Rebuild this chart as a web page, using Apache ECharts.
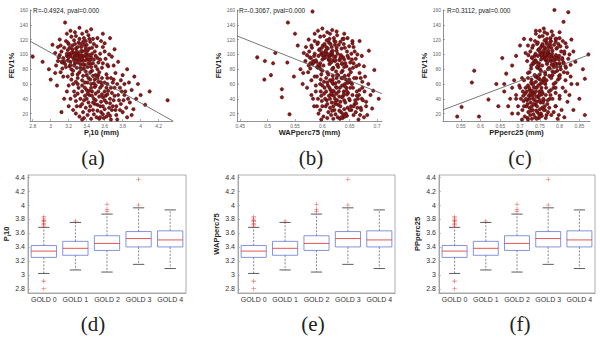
<!DOCTYPE html>
<html>
<head>
<meta charset="utf-8">
<script src="https://cdn.jsdelivr.net/npm/echarts@6/dist/echarts.min.js"></script>
<style>
  html, body { margin: 0; padding: 0; background: #fff; }
  #chart { width: 600px; height: 342px; }
</style>
</head>
<body>
<div id="chart"></div>
<script>
// --- scatter data (x = airway metric in mm, y = FEV1%) ---
const pi10Points = [
  [3.21,101],[3.25,95],[3.28,108],[3.3,99],[3.33,92],[3.35,104],[3.27,88],[3.24,112],[3.31,116],[3.36,97],
  [3.38,86],[3.4,101],[3.42,93],[3.29,82],[3.22,90],[3.18,98],[3.19,106],[3.26,119],[3.34,110],[3.37,122],
  [3.43,108],[3.45,96],[3.47,88],[3.41,83],[3.39,77],[3.32,76],[3.23,80],[3.16,87],[3.14,95],[3.2,114],
  [3.28,125],[3.35,128],[3.44,117],[3.49,104],[3.52,95],[3.5,84],[3.46,78],[3.36,71],[3.3,68],[3.24,73],
  [3.12,104],[3.17,118],[3.31,102],[3.27,97],[3.33,87],[3.29,93],[3.38,105],[3.4,113],[3.25,103],[3.22,98],
  [3.34,99],[3.36,91],[3.3,110],[3.26,85],[3.43,99],[3.48,93],[3.53,89],[3.55,101],[3.57,82],[3.19,92],
  [3.15,109],[3.1,99],[3.08,91],[3.32,121],[3.42,126],[3.48,114],[3.23,124],[3.39,118],[3.44,87],[3.37,81],
  [3.21,84],[3.13,81],[3.05,102],[3.58,110],[3.61,94],[3.54,76],[3.47,71],[3.28,63],[3.19,70],[3.11,76],
  [3.2,96],[3.23,102],[3.26,92],[3.29,104],[3.32,97],[3.35,94],[3.38,99],[3.41,105],[3.44,92],[3.46,101],
  [3.24,107],[3.27,114],[3.3,89],[3.33,82],[3.36,86],[3.39,92],[3.42,88],[3.45,83],[3.22,86],[3.18,101],
  [3.15,91],[3.21,109],[3.28,100],[3.31,94],[3.34,105],[3.37,113],[3.4,96],[3.43,121],[3.46,109],[3.5,98],
  [3.25,78],[3.3,73],[3.34,80],[3.4,72],[3.17,83],[3.13,89],[3.09,96],[3.27,130],[3.36,117],[3.51,111],
  [3.55,93],[3.52,80],[3.49,66],[3.44,76],[3.35,65],[3.23,66],[3.14,70],[3.06,85],[3.33,114],[3.26,100],
  [3.19,116],[3.39,109],[3.47,121],[3.56,118],[3.6,104],[3.64,84],[3.58,88],[3.53,72],[3.42,68],[3.11,112],
  [2.8,97],[2.91,90],[3.16,143],[3.32,136],[3.45,134],[3.58,128],[3.66,122],[3.71,107],[3.68,97],[3.75,90],
  [3.63,86],[3.02,113],[2.98,80],[3.0,66],[3.07,58],[3.85,80],[3.8,72],[3.62,73],
  [3.35,58],[3.4,52],[3.45,60],[3.5,47],[3.55,55],[3.48,40],[3.42,35],[3.38,44],[3.33,30],[3.52,32],
  [3.58,42],[3.6,50],[3.62,35],[3.65,28],[3.56,22],[3.47,25],[3.41,18],[3.36,22],[3.3,47],[3.28,37],
  [3.44,66],[3.53,63],[3.63,60],[3.68,48],[3.7,38],[3.72,25],[3.66,17],[3.59,14],[3.51,15],[3.45,13],
  [3.39,28],[3.46,50],[3.54,43],[3.61,44],[3.67,55],[3.75,45],[3.78,33],[3.8,22],[3.74,60],[3.7,66],
  [3.57,68],[3.5,72],[3.43,45],[3.37,38],[3.31,55],[3.26,50],[3.22,40],[3.25,25],[3.32,16],[3.49,56],
  [3.64,20],[3.86,40],[3.9,52],[3.95,40],[3.84,28],[3.92,26],[4.05,32],[4.3,38],[3.82,60],[3.12,22],
  [3.2,58],[3.56,36],[3.41,62],[3.6,26],
  [3.38,55],[3.43,51],[3.48,61],[3.53,50],[3.57,58],[3.46,44],[3.5,38],[3.55,30],[3.6,38],[3.63,46],
  [3.66,40],[3.69,30],[3.58,19],[3.52,24],[3.44,30],[3.4,40],[3.35,50],[3.33,40],[3.29,30],[3.37,14],
  [3.48,19],[3.54,13],[3.62,16],[3.71,55],[3.76,38],[3.79,50],[3.73,18],[3.68,25],[3.6,62],[3.52,68],
  [3.45,55],[3.41,47],[3.64,51],[3.57,46],[3.49,33],[3.43,24],[3.35,33],[3.27,44],[3.69,62],[3.82,45],
  [3.05,75],[3.08,110],[3.1,120],[3.12,90],[3.18,128],[3.22,132],[3.4,131],[3.52,122],[3.6,115],[3.65,100],
  [3.7,85],[3.72,75],[3.67,68],[3.78,65],[3.56,62],[3.63,68],[3.5,58],[3.25,60],[3.18,50],[3.15,40],
  [3.2,30],[3.28,20],[3.35,12],[3.58,30],[3.66,34],[3.73,30],[3.77,55],[3.83,50],[3.88,35],[3.9,18],
  [3.85,15],[3.74,12],[3.67,12],[3.97,60],[4.0,45],[4.1,50],[3.93,70],[3.55,15],[3.47,35],[3.38,62],
  [3.3,60],[3.62,55],[3.71,44],[3.81,38],[3.87,62],[3.77,25]
];
const wapPoints = [
  [0.598,101],[0.604,95],[0.61,108],[0.615,99],[0.62,92],[0.606,104],[0.596,88],[0.601,112],[0.612,116],[0.624,97],
  [0.628,86],[0.618,101],[0.632,93],[0.592,82],[0.589,90],[0.585,98],[0.594,106],[0.608,119],[0.617,110],[0.621,122],
  [0.635,108],[0.638,96],[0.642,88],[0.629,83],[0.625,77],[0.609,76],[0.597,80],[0.582,87],[0.579,95],[0.591,114],
  [0.603,125],[0.614,128],[0.633,117],[0.645,104],[0.648,95],[0.644,84],[0.637,78],[0.619,71],[0.607,68],[0.598,73],
  [0.576,104],[0.586,118],[0.616,102],[0.605,97],[0.613,87],[0.6,93],[0.626,105],[0.63,113],[0.599,103],[0.593,98],
  [0.611,99],[0.623,91],[0.607,110],[0.602,85],[0.634,99],[0.64,93],[0.651,89],[0.653,101],[0.656,82],[0.588,92],
  [0.581,109],[0.572,99],[0.569,91],[0.613,121],[0.627,126],[0.639,114],[0.596,124],[0.622,118],[0.636,87],[0.619,81],
  [0.595,84],[0.578,81],[0.566,102],[0.657,110],[0.661,94],[0.652,76],[0.641,71],[0.603,63],[0.59,70],[0.574,76],
  [0.603,96],[0.607,102],[0.612,92],[0.617,104],[0.621,97],[0.611,94],[0.6,99],[0.606,105],[0.624,92],[0.628,101],
  [0.595,107],[0.604,114],[0.616,89],[0.62,82],[0.627,86],[0.631,92],[0.636,88],[0.64,83],[0.593,86],[0.586,101],
  [0.583,91],[0.599,109],[0.61,100],[0.614,94],[0.619,105],[0.623,113],[0.633,96],[0.637,121],[0.641,109],[0.646,98],
  [0.6,78],[0.611,73],[0.618,80],[0.629,72],[0.59,83],[0.584,89],[0.577,96],[0.609,130],[0.624,117],[0.649,111],
  [0.654,93],[0.65,80],[0.643,66],[0.635,76],[0.614,65],[0.597,66],[0.586,70],[0.575,85],[0.615,114],[0.602,100],
  [0.592,116],[0.626,109],[0.639,121],[0.655,118],[0.659,104],[0.662,84],[0.657,88],[0.648,72],[0.626,68],[0.58,112],
  [0.481,96],[0.495,91],[0.51,88],[0.506,72],[0.494,66],[0.514,102],[0.536,89],[0.526,53],[0.526,42],[0.54,19],
  [0.537,143],[0.582,158],[0.695,79],[0.693,51],[0.691,27],[0.555,112],[0.56,80],[0.548,70],[0.564,60],[0.6,135],
  [0.618,133],[0.64,128],[0.668,118],[0.672,98],[0.676,84],[0.67,68],[0.55,128],[0.703,40],[0.68,30],[0.685,105],
  [0.61,58],[0.615,52],[0.62,60],[0.626,47],[0.632,55],[0.623,40],[0.617,35],[0.612,44],[0.606,30],[0.629,32],
  [0.636,42],[0.639,50],[0.642,35],[0.646,28],[0.634,22],[0.622,25],[0.616,18],[0.611,22],[0.603,47],[0.599,37],
  [0.619,66],[0.63,63],[0.641,60],[0.647,48],[0.65,38],[0.653,25],[0.645,17],[0.637,14],[0.628,15],[0.62,13],
  [0.614,28],[0.621,50],[0.631,43],[0.638,44],[0.644,55],[0.655,45],[0.659,33],[0.661,22],[0.654,60],[0.649,66],
  [0.635,68],[0.627,72],[0.618,45],[0.608,38],[0.604,55],[0.597,50],[0.592,40],[0.596,25],[0.602,16],[0.625,56],
  [0.643,20],[0.665,40],[0.668,52],[0.672,40],[0.664,28],[0.669,18],[0.585,30],[0.58,45],[0.588,58],[0.633,36],
  [0.618,62],[0.64,26],
  [0.613,55],[0.619,51],[0.624,61],[0.63,50],[0.636,58],[0.621,44],[0.627,38],[0.633,30],[0.64,38],[0.645,46],
  [0.649,40],[0.652,30],[0.638,19],[0.631,24],[0.62,30],[0.614,40],[0.607,50],[0.605,40],[0.6,30],[0.609,14],
  [0.624,19],[0.632,13],[0.641,16],[0.656,55],[0.66,38],[0.663,50],[0.657,18],[0.65,25],[0.646,62],[0.637,68],
  [0.626,55],[0.616,47],[0.644,51],[0.639,46],[0.625,33],[0.618,24],[0.609,33],[0.598,44],[0.652,62],[0.667,45],
  [0.565,75],[0.57,110],[0.575,120],[0.578,88],[0.586,128],[0.592,132],[0.626,131],[0.646,122],[0.655,115],[0.664,100],
  [0.667,86],[0.668,75],[0.662,68],[0.673,63],[0.647,62],[0.658,68],[0.641,57],[0.596,60],[0.588,50],[0.583,40],
  [0.59,30],[0.593,20],[0.598,12],[0.657,30],[0.662,34],[0.67,28],[0.673,55],[0.677,50],[0.68,36],[0.682,18],
  [0.676,15],[0.666,12],[0.684,60],[0.688,45],[0.678,70],[0.635,15],[0.623,35],[0.609,62],[0.6,58],[0.651,55],
  [0.663,44],[0.674,38],[0.671,25],[0.58,65],[0.572,55]
];
const ppPoints = [
  [0.752,101],[0.758,95],[0.764,108],[0.77,99],[0.776,92],[0.76,104],[0.748,88],[0.755,112],[0.767,116],[0.78,97],
  [0.784,86],[0.773,101],[0.789,93],[0.744,82],[0.741,90],[0.737,98],[0.746,106],[0.762,119],[0.772,110],[0.777,122],
  [0.792,108],[0.795,96],[0.8,88],[0.786,83],[0.782,77],[0.763,76],[0.75,80],[0.733,87],[0.73,95],[0.743,114],
  [0.757,125],[0.769,128],[0.79,117],[0.804,104],[0.807,95],[0.802,84],[0.794,78],[0.774,71],[0.761,68],[0.75,73],
  [0.726,104],[0.738,118],[0.771,102],[0.759,97],[0.768,87],[0.753,93],[0.782,105],[0.786,113],[0.751,103],[0.745,98],
  [0.766,99],[0.779,91],[0.761,110],[0.756,85],[0.791,99],[0.798,93],[0.81,89],[0.812,101],[0.816,82],[0.739,92],
  [0.731,109],[0.721,99],[0.718,91],[0.768,121],[0.783,126],[0.797,114],[0.749,124],[0.778,118],[0.793,87],[0.775,81],
  [0.747,84],[0.728,81],[0.714,102],[0.818,110],[0.822,94],[0.811,76],[0.799,71],[0.757,63],[0.742,70],[0.724,76],
  [0.756,96],[0.76,102],[0.765,92],[0.77,104],[0.774,97],[0.764,94],[0.753,99],[0.759,105],[0.777,92],[0.781,101],
  [0.748,107],[0.757,114],[0.769,89],[0.773,82],[0.78,86],[0.784,92],[0.789,88],[0.793,83],[0.746,86],[0.739,101],
  [0.736,91],[0.752,109],[0.763,100],[0.767,94],[0.772,105],[0.776,113],[0.786,96],[0.79,121],[0.794,109],[0.799,98],
  [0.753,78],[0.764,73],[0.771,80],[0.782,72],[0.743,83],[0.737,89],[0.73,96],[0.762,130],[0.777,117],[0.802,111],
  [0.807,93],[0.803,80],[0.796,66],[0.788,76],[0.767,65],[0.75,66],[0.739,70],[0.728,85],[0.768,114],[0.755,100],
  [0.745,116],[0.779,109],[0.792,121],[0.808,118],[0.812,104],[0.815,84],[0.81,88],[0.801,72],[0.779,68],[0.733,112],
  [0.787,160],[0.822,157],[0.81,144],[0.584,78],[0.578,62],[0.552,29],[0.541,16],[0.596,16],[0.62,39],[0.864,18],
  [0.873,100],[0.864,67],[0.859,80],[0.7,112],[0.69,98],[0.68,85],[0.665,74],[0.655,95],[0.76,135],[0.74,132],
  [0.8,130],[0.83,120],[0.835,104],[0.84,90],[0.828,70],[0.845,60],[0.71,121],[0.64,60],[0.66,50],[0.645,30],
  [0.85,40],[0.835,25],
  [0.72,58],[0.725,52],[0.73,60],[0.736,47],[0.742,55],[0.733,40],[0.727,35],[0.722,44],[0.716,30],[0.739,32],
  [0.746,42],[0.749,50],[0.752,35],[0.756,28],[0.744,22],[0.732,25],[0.726,18],[0.721,22],[0.713,47],[0.709,37],
  [0.729,66],[0.74,63],[0.751,60],[0.757,48],[0.76,38],[0.763,25],[0.755,17],[0.747,14],[0.738,15],[0.73,13],
  [0.724,28],[0.731,50],[0.741,43],[0.748,44],[0.754,55],[0.765,45],[0.769,33],[0.771,22],[0.764,60],[0.759,66],
  [0.745,68],[0.737,72],[0.728,45],[0.718,38],[0.714,55],[0.707,50],[0.702,40],[0.706,25],[0.712,16],[0.735,56],
  [0.753,20],[0.775,40],[0.778,52],[0.782,40],[0.774,28],[0.779,18],[0.695,30],[0.69,45],[0.698,58],[0.743,36],
  [0.728,62],[0.75,26],[0.785,60],[0.79,30],[0.68,20],[0.79,48],
  [0.723,55],[0.729,51],[0.734,61],[0.74,50],[0.746,58],[0.731,44],[0.737,38],[0.743,30],[0.75,38],[0.755,46],
  [0.759,40],[0.762,30],[0.748,19],[0.741,24],[0.73,30],[0.724,40],[0.717,50],[0.715,40],[0.71,30],[0.719,14],
  [0.734,19],[0.742,13],[0.751,16],[0.766,55],[0.77,38],[0.773,50],[0.767,18],[0.76,25],[0.756,62],[0.747,68],
  [0.736,55],[0.726,47],[0.754,51],[0.749,46],[0.735,33],[0.728,24],[0.719,33],[0.708,44],[0.762,62],[0.777,45],
  [0.72,75],[0.72,112],[0.727,120],[0.732,88],[0.74,128],[0.75,132],[0.78,131],[0.8,122],[0.815,115],[0.825,100],
  [0.828,86],[0.82,75],[0.815,65],[0.83,60],[0.79,62],[0.8,68],[0.785,55],[0.71,65],[0.7,55],[0.69,40],
  [0.695,20],[0.705,12],[0.72,12],[0.79,30],[0.8,40],[0.805,25],[0.808,55],[0.815,50],[0.82,36],[0.812,15],
  [0.795,13],[0.785,22],[0.675,40],[0.67,30],[0.685,65],[0.765,14],[0.758,35],[0.705,68],[0.72,68],[0.79,55],
  [0.8,44],[0.825,45],[0.798,18],[0.68,55],[0.66,60]
];

// fitted regression lines (end points read at the axis limits)
const pi10Fit = [[2.77,118],[4.36,10]];
const wapFit = [[0.444,125],[0.709,47]];
const ppFit = [[0.505,25],[0.877,100]];

const statLabels = ['R=-0.4924, pval=0.000', 'R=-0.3067, pval=0.000', 'R=0.3112, pval=0.000'];

// tick labels
const pi10Ticks = [2.8, 3, 3.2, 3.4, 3.6, 3.8, 4, 4.2];
const wapTicks = [0.45, 0.5, 0.55, 0.6, 0.65, 0.7];
const ppTicks = [0.55, 0.6, 0.65, 0.7, 0.75, 0.8, 0.85];
const fevTicks = [20, 40, 60, 80, 100, 120, 140, 160];
const boxTicks = [2.8, 3, 3.2, 3.4, 3.6, 3.8, 4, 4.2, 4.4];

// --- boxplot data: [category, lower whisker, Q1, median, Q3, upper whisker] ---
const goldCategories = ['GOLD 0', 'GOLD 1', 'GOLD 2', 'GOLD 3', 'GOLD 4'];
const goldBoxes = [
  [0, 3.02, 3.25, 3.34, 3.42, 3.68],
  [1, 3.07, 3.28, 3.38, 3.48, 3.75],
  [2, 3.04, 3.35, 3.45, 3.56, 3.87],
  [3, 3.15, 3.40, 3.52, 3.62, 3.96],
  [4, 3.09, 3.40, 3.50, 3.63, 3.93]
];
const goldOutliers = [
  [0,3.70],[0,3.72],[0,3.74],[0,3.76],[0,3.78],[0,3.80],[0,3.83],[0,2.91],[0,2.80],
  [1,3.77],
  [2,3.91],[2,3.94],[2,4.01],
  [3,4.00],[3,4.37]
];

const FONT = "'Liberation Sans', Arial, sans-serif";
const axisGrey = '#777';

const scatterGrids = [
  { left: 30, top: 10, width: 143, height: 111 },
  { left: 237, top: 10, width: 145, height: 111 },
  { left: 443, top: 10, width: 147, height: 111 }
];
const boxGrids = [
  { left: 28, top: 175, width: 158, height: 118 },
  { left: 238, top: 175, width: 157, height: 118 },
  { left: 439, top: 175, width: 156, height: 118 }
];

const scatterX = [
  { min: 2.77, max: 4.36, ticks: pi10Ticks, name: '{a|P}{s|i}{a|10 (mm)}', gap: 4 },
  { min: 0.444, max: 0.709, ticks: wapTicks, name: '{a|WAPperc75 (mm)}', gap: 6 },
  { min: 0.505, max: 0.877, ticks: ppTicks, name: '{a|PPperc25 (mm)}', gap: 6 }
];
const boxYNames = ['{a|P}{s|i}{a|10}', '{a|WAPperc75}', '{a|PPperc25}'];
const scatterSets = [pi10Points, wapPoints, ppPoints];
const fitSets = [pi10Fit, wapFit, ppFit];

const nameRich = {
  a: { fontFamily: FONT, fontSize: 7.5, fontWeight: 'bold', color: '#222', lineHeight: 10 },
  s: { fontFamily: FONT, fontSize: 5, fontWeight: 'bold', color: '#222', lineHeight: 5, verticalAlign: 'bottom' }
};

const grid = [], xAxis = [], yAxis = [], series = [];

scatterGrids.forEach((g, i) => {
  grid.push(Object.assign({ show: false }, g));
  const sx = scatterX[i];
  xAxis.push({
    type: 'value', gridIndex: i, min: sx.min, max: sx.max,
    name: sx.name, nameLocation: 'middle', nameGap: sx.gap,
    nameTextStyle: { rich: nameRich },
    axisLine: { lineStyle: { color: axisGrey, width: 0.8 } },
    axisTick: { inside: true, length: 2, lineStyle: { color: axisGrey, width: 0.6 }, customValues: sx.ticks },
    axisLabel: { customValues: sx.ticks, fontSize: 5, color: '#666', margin: 2, fontFamily: FONT },
    splitLine: { show: false }
  });
  yAxis.push({
    type: 'value', gridIndex: i, min: 10, max: 160,
    name: 'FEV1%', nameLocation: 'middle', nameGap: 13, nameRotate: 90,
    nameTextStyle: { fontFamily: FONT, fontSize: 7.5, fontWeight: 'bold', color: '#222' },
    axisLine: { show: true, lineStyle: { color: axisGrey, width: 0.8 } },
    axisTick: { show: true, inside: true, length: 2, lineStyle: { color: axisGrey, width: 0.6 }, customValues: fevTicks },
    axisLabel: { customValues: fevTicks, fontSize: 5, color: '#666', margin: 2, fontFamily: FONT },
    splitLine: { show: false }
  });
  series.push({
    type: 'scatter', xAxisIndex: i, yAxisIndex: i,
    data: scatterSets[i], symbolSize: 3.5, silent: true,
    itemStyle: { color: '#8a1a1a', borderColor: '#2e0404', borderWidth: 0.4, opacity: 1 }
  });
  series.push({
    type: 'line', xAxisIndex: i, yAxisIndex: i, data: fitSets[i],
    symbol: 'none', silent: true, z: 5,
    lineStyle: { color: '#555', width: 0.8 }
  });
});

function renderBox(params, api) {
  const c = api.value(0);
  const vals = [1, 2, 3, 4, 5].map((d) => api.value(d));
  const pLo = api.coord([c, vals[0]]);
  const pQ1 = api.coord([c, vals[1]]);
  const pMed = api.coord([c, vals[2]]);
  const pQ3 = api.coord([c, vals[3]]);
  const pHi = api.coord([c, vals[4]]);
  const band = api.size([1, 0])[0];
  const bw = band * 0.8;
  const cw = bw * 0.45;
  const x = pMed[0];
  const dash = { stroke: '#555', lineWidth: 0.7, lineDash: [2, 1.5] };
  const solid = { stroke: '#333', lineWidth: 0.8 };
  return {
    type: 'group',
    children: [
      { type: 'line', shape: { x1: x, y1: pQ3[1], x2: x, y2: pHi[1] }, style: dash },
      { type: 'line', shape: { x1: x, y1: pQ1[1], x2: x, y2: pLo[1] }, style: dash },
      { type: 'line', shape: { x1: x - cw / 2, y1: pHi[1], x2: x + cw / 2, y2: pHi[1] }, style: solid },
      { type: 'line', shape: { x1: x - cw / 2, y1: pLo[1], x2: x + cw / 2, y2: pLo[1] }, style: solid },
      { type: 'rect', shape: { x: x - bw / 2, y: pQ3[1], width: bw, height: pQ1[1] - pQ3[1] },
        style: { fill: 'none', stroke: '#6478d4', lineWidth: 0.8 } },
      { type: 'line', shape: { x1: x - bw / 2, y1: pMed[1], x2: x + bw / 2, y2: pMed[1] },
        style: { stroke: '#e02a2a', lineWidth: 0.8 } }
    ]
  };
}

boxGrids.forEach((g, j) => {
  const i = j + 3;
  grid.push(Object.assign({ show: true, borderColor: '#999', borderWidth: 0.8 }, g));
  xAxis.push({
    type: 'category', gridIndex: i, data: goldCategories,
    axisLine: { lineStyle: { color: '#999', width: 0.8 } },
    axisTick: { inside: true, alignWithLabel: true, length: 2, lineStyle: { color: '#999', width: 0.6 } },
    axisLabel: { interval: 0, fontSize: 7, color: '#333', margin: 3, fontFamily: FONT },
    splitLine: { show: false }
  });
  yAxis.push({
    type: 'value', gridIndex: i, min: 2.74, max: 4.43,
    name: boxYNames[j], nameLocation: 'middle', nameGap: 17, nameRotate: 90,
    nameTextStyle: { rich: nameRich },
    axisLine: { show: true, lineStyle: { color: '#999', width: 0.8 } },
    axisTick: { show: true, inside: true, length: 2, lineStyle: { color: '#999', width: 0.6 }, customValues: boxTicks },
    axisLabel: { customValues: boxTicks, fontSize: 7, color: '#333', margin: 3, fontFamily: FONT },
    splitLine: { show: false }
  });
  series.push({
    type: 'custom', xAxisIndex: i, yAxisIndex: i, data: goldBoxes,
    renderItem: renderBox, silent: true,
    encode: { x: 0, y: [1, 2, 3, 4, 5] }
  });
  series.push({
    type: 'scatter', xAxisIndex: i, yAxisIndex: i, data: goldOutliers,
    symbol: 'path://M4.4,0H5.6V4.4H10V5.6H5.6V10H4.4V5.6H0V4.4H4.4Z', symbolSize: 4.5, silent: true,
    itemStyle: { color: '#e03030' }
  });
});

const panelLabels = [
  { t: '(a)', x: 93, y: 158 }, { t: '(b)', x: 311, y: 158 }, { t: '(c)', x: 520, y: 158 },
  { t: '(d)', x: 93, y: 324 }, { t: '(e)', x: 313, y: 324 }, { t: '(f)', x: 520, y: 324 }
];
const statPos = [[33, 10], [239, 10], [447, 10]];

const graphic = [];
panelLabels.forEach((p) => {
  graphic.push({
    type: 'text', x: p.x, y: p.y, silent: true,
    style: { text: p.t, fontFamily: "'Liberation Serif', 'Times New Roman', serif", fontSize: 21,
      fill: '#222', align: 'center', verticalAlign: 'middle' }
  });
});
statLabels.forEach((s, i) => {
  graphic.push({
    type: 'text', x: statPos[i][0], y: statPos[i][1], silent: true,
    style: { text: s, fontFamily: FONT, fontSize: 6.5, fill: '#222', align: 'left', verticalAlign: 'middle' }
  });
});

const chart = echarts.init(document.getElementById('chart'), null, { renderer: 'svg' });
chart.setOption({
  backgroundColor: '#fff',
  animation: false,
  grid, xAxis, yAxis, series, graphic
});
</script>
</body>
</html>
